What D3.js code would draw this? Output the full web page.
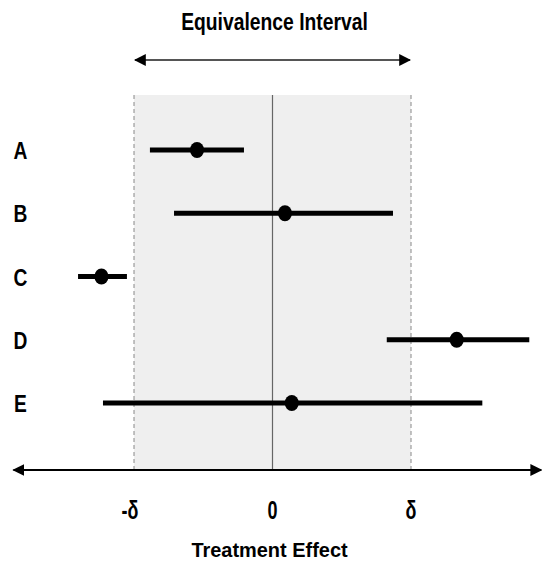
<!doctype html>
<html>
<head>
<meta charset="utf-8">
<title>Equivalence Interval</title>
<script src="https://cdn.jsdelivr.net/npm/d3@7"></script>
<style>
body { margin: 0; background: #fff; }
text { font-family: 'Liberation Sans Narrow', 'Arial Narrow', 'Liberation Sans', sans-serif; font-weight: bold; fill: #000; }
</style>
</head>
<body>
<script>
// data, in units of delta
var rows = ['A', 'B', 'C', 'D', 'E'];
var lower = [-0.885, -0.711, -1.404, 0.825, -1.224];
var estimate = [-0.545, 0.090, -1.235, 1.330, 0.139];
var upper = [-0.206, 0.870, -1.051, 1.854, 1.515];
var tickVals = [-1, 0, 1];
var tickLabels = ['-δ', '0', 'δ'];

var W = 543, H = 563;
var svg = d3.select('body').append('svg')
  .attr('width', W).attr('height', H);

var x = d3.scaleLinear().domain([-1, 1]).range([134, 411]);
var y = d3.scalePoint().domain(rows).range([150, 403]);

var plotTop = 95, axisY = 470;

var defs = svg.append('defs');
defs.append('marker')
  .attr('id', 'arr')
  .attr('viewBox', '0 0 10 10')
  .attr('refX', 9).attr('refY', 5)
  .attr('markerWidth', 6).attr('markerHeight', 6)
  .attr('markerUnits', 'strokeWidth')
  .attr('orient', 'auto-start-reverse')
  .append('path').attr('d', 'M0,0 L10,5 L0,10 z').attr('fill', '#000');

// narrow bold text: squeeze horizontally
function label(g, tx, ty, size, sx, str) {
  return g.append('text')
    .attr('transform', 'translate(' + tx + ',' + ty + ') scale(' + sx + ',1)')
    .attr('text-anchor', 'middle')
    .style('font-size', size + 'px')
    .text(str);
}

// shaded equivalence region
svg.append('rect')
  .attr('x', x(-1)).attr('y', plotTop)
  .attr('width', x(1) - x(-1)).attr('height', axisY - plotTop)
  .attr('fill', '#efefef');

svg.selectAll('.bound').data([-1, 1]).enter().append('line')
  .attr('class', 'bound')
  .attr('x1', d => x(d)).attr('x2', d => x(d))
  .attr('y1', plotTop).attr('y2', axisY)
  .attr('stroke', '#888').attr('stroke-width', 1)
  .attr('stroke-dasharray', '4,3');

svg.append('line')
  .attr('x1', x(0)).attr('x2', x(0))
  .attr('y1', plotTop).attr('y2', axisY)
  .attr('stroke', '#666').attr('stroke-width', 1.2);

// top interval arrow
label(svg, x(0) + 2, 30, 23, 0.84, 'Equivalence Interval');

svg.append('line')
  .attr('x1', x(-1) + 1).attr('x2', x(1) - 1)
  .attr('y1', 60).attr('y2', 60)
  .attr('stroke', '#555').attr('stroke-width', 2)
  .attr('marker-start', 'url(#arr)').attr('marker-end', 'url(#arr)');

// x axis
svg.append('line')
  .attr('x1', x(-1.87)).attr('x2', x(1.94))
  .attr('y1', axisY).attr('y2', axisY)
  .attr('stroke', '#000').attr('stroke-width', 2)
  .attr('marker-start', 'url(#arr)').attr('marker-end', 'url(#arr)');

tickVals.forEach(function(d, i) {
  label(svg, x(d) + (i === 0 ? -4 : 0), 519, 25, 0.72, tickLabels[i]);
});

label(svg, x(0) - 3, 557, 21, 0.95, 'Treatment Effect');

// row labels
rows.forEach(function(d) {
  label(svg, 20.5, y(d) + 9, 24, 0.8, d);
});

// intervals
svg.selectAll('.ci').data(rows).enter().append('line')
  .attr('class', 'ci')
  .attr('x1', (d, i) => x(lower[i])).attr('x2', (d, i) => x(upper[i]))
  .attr('y1', d => y(d)).attr('y2', d => y(d))
  .attr('stroke', '#000').attr('stroke-width', 5);

svg.selectAll('.pt').data(rows).enter().append('ellipse')
  .attr('class', 'pt')
  .attr('cx', (d, i) => x(estimate[i])).attr('cy', d => y(d))
  .attr('rx', 7).attr('ry', 8)
  .attr('fill', '#000');
</script>
</body>
</html>
